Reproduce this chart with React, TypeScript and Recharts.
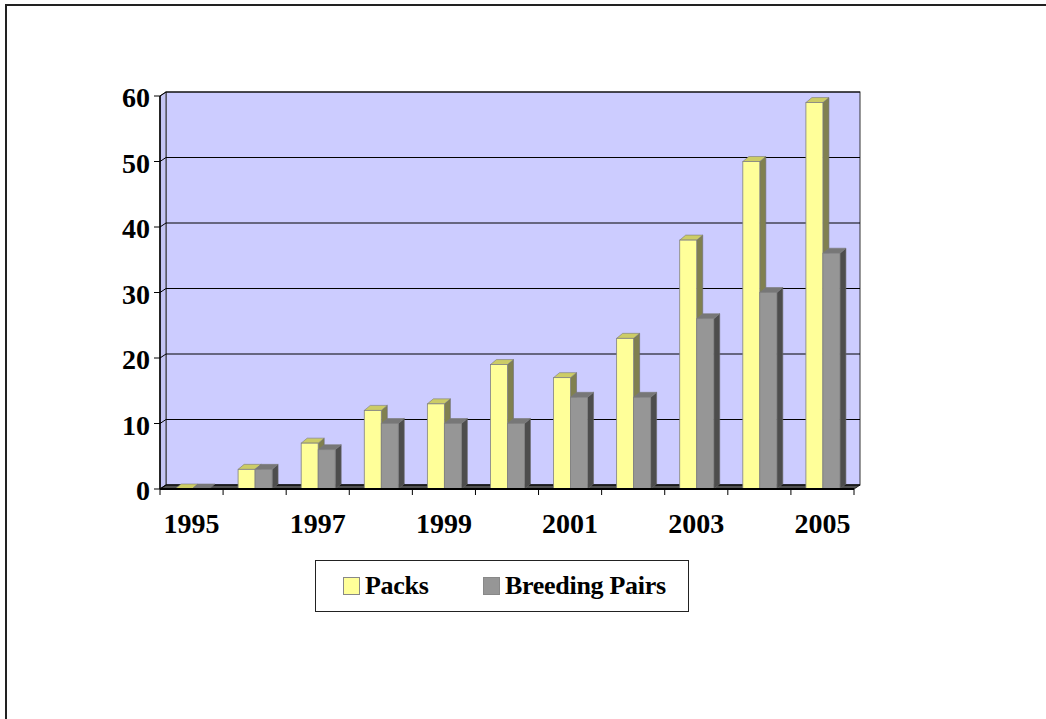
import React from 'react';
import {BarChart, Bar, XAxis, YAxis, CartesianGrid} from 'recharts';

// wolf counts per year
const years = ['1995', '1996', '1997', '1998', '1999', '2000', '2001', '2002', '2003', '2004', '2005'];
const packs = [0, 3, 7, 12, 13, 19, 17, 23, 38, 50, 59];
const breedingPairs = [0, 3, 6, 10, 10, 10, 14, 14, 26, 30, 36];
const seriesNames = ['Packs', 'Breeding Pairs'];
const yTicks = [0, 10, 20, 30, 40, 50, 60];

const chartData = years.map((year, i) => ({
    year,
    packs: packs[i],
    pairs: breedingPairs[i],
}));

const FONT = "'Liberation Serif', 'Times New Roman', serif";
const WALL_DX = 6;
const WALL_DY = 4;
const BAR_DX = 6;
const BAR_DY = 5;

const colors = {
    packs: {front: '#FFFF99', top: '#CCCC66', side: '#808050'},
    pairs: {front: '#969696', top: '#777777', side: '#4D4D4D'},
};

// 3d column: front face, top face and right side
const makeBarShape = (c: {front: string; top: string; side: string}) => (props: any) => {
    const {x, y, width, height} = props;
    if (x == null || y == null) return null;
    const w = width;
    const h = Math.max(height, 0);
    return (
        <g>
            {h > 0 && (
                <polygon
                    points={`${x + w},${y} ${x + w + BAR_DX},${y - BAR_DY} ${x + w + BAR_DX},${y + h - BAR_DY} ${x + w},${y + h}`}
                    fill={c.side}
                    stroke='#6a6a6a'
                    strokeWidth={0.6}
                />
            )}
            <polygon
                points={`${x},${y} ${x + BAR_DX},${y - BAR_DY} ${x + w + BAR_DX},${y - BAR_DY} ${x + w},${y}`}
                fill={c.top}
                stroke='#7a7a7a'
                strokeWidth={0.6}
            />
            {h > 0 && <rect x={x} y={y} width={w} height={h} fill={c.front} stroke='#808080' strokeWidth={0.8} />}
        </g>
    );
};

// back wall, left wall, floor and gridlines drawn in perspective
const renderGridLine = (props: any) => {
    const {x1, y1, x2, index, x, y, width, height} = props;
    return (
        <g key={`grid-${index}`}>
            {index === 0 && (
                <g>
                    <rect x={x + WALL_DX} y={y - WALL_DY} width={width} height={height} fill='#CCCCFF' stroke='#333' strokeWidth={1} />
                    <polygon
                        points={`${x},${y} ${x + WALL_DX},${y - WALL_DY} ${x + WALL_DX},${y + height - WALL_DY} ${x},${y + height}`}
                        fill='#C4C4F4'
                        stroke='#333'
                        strokeWidth={1}
                    />
                    <polygon
                        points={`${x},${y + height} ${x + WALL_DX},${y + height - WALL_DY} ${x + width + WALL_DX},${y + height - WALL_DY} ${x + width},${y + height}`}
                        fill='#505050'
                        stroke='#222'
                        strokeWidth={1}
                    />
                </g>
            )}
            <line x1={x1} y1={y1} x2={x1 + WALL_DX} y2={y1 - WALL_DY} stroke='#000' strokeWidth={1} />
            <line x1={x1 + WALL_DX} y1={y1 - WALL_DY} x2={x2 + WALL_DX} y2={y1 - WALL_DY} stroke='#000' strokeWidth={1} />
        </g>
    );
};

const YTick = (props: any) => {
    const {x, y, payload} = props;
    return (
        <text x={x} y={y + 11} textAnchor='end' fontFamily={FONT} fontWeight='bold' fontSize={28} fill='#000'>
            {payload.value}
        </text>
    );
};

const XTick = (props: any) => {
    const {x, y, payload, width} = props;
    const half = payload.offset || width / years.length / 2;
    return (
        <g>
            <line x1={x - half} y1={y} x2={x - half} y2={y + 6} stroke='#000' strokeWidth={1} />
            <line x1={x + half} y1={y} x2={x + half} y2={y + 6} stroke='#000' strokeWidth={1} />
            <text x={x} y={y + 44} textAnchor='middle' fontFamily={FONT} fontWeight='bold' fontSize={28} fill='#000'>
                {payload.value}
            </text>
        </g>
    );
};

const LegendBox = () => (
    <div
        style={{
            position: 'absolute',
            left: 315,
            top: 560,
            width: 372,
            height: 50,
            border: '1.5px solid #222',
            fontFamily: FONT,
            fontWeight: 'bold',
            fontSize: 26,
            background: '#fff',
        }}
    >
        {[colors.packs, colors.pairs].map((c, i) => (
            <div key={seriesNames[i]} style={{position: 'absolute', left: i === 0 ? 27 : 167, top: 12, display: 'flex', alignItems: 'center'}}>
                <span style={{display: 'inline-block', width: 15, height: 16, background: c.front, border: '1px solid #888', marginRight: 5}} />
                <span style={{lineHeight: '26px', letterSpacing: -0.3}}>{seriesNames[i]}</span>
            </div>
        ))}
    </div>
);

export default function App() {
    return (
        <div style={{position: 'absolute', left: 0, top: 0, width: 1046, height: 719, overflow: 'hidden', background: '#fff'}}>
            <div
                style={{
                    position: 'absolute',
                    left: 5,
                    top: 4,
                    width: 1046,
                    height: 719,
                    borderLeft: '2px solid #222',
                    borderTop: '2px solid #222',
                }}
            />
            <div style={{position: 'absolute', left: 0, top: 0}}>
                <BarChart
                    width={1046}
                    height={719}
                    data={chartData}
                    margin={{top: 96, right: 192, left: 0, bottom: 170}}
                    barSize={17}
                    barGap={0}
                >
                    <CartesianGrid vertical={false} horizontal={renderGridLine} />
                    <XAxis
                        dataKey='year'
                        interval={1}
                        height={60}
                        tickLine={false}
                        tickSize={0}
                        tickMargin={0}
                        axisLine={{stroke: '#000', strokeWidth: 2}}
                        tick={<XTick />}
                    />
                    <YAxis
                        width={160}
                        domain={[0, 60]}
                        ticks={yTicks}
                        tickSize={6}
                        tickMargin={4}
                        tickLine={{stroke: '#000'}}
                        axisLine={{stroke: '#000', strokeWidth: 1.5}}
                        tick={<YTick />}
                    />
                    <Bar dataKey='packs' name={seriesNames[0]} isAnimationActive={false} shape={makeBarShape(colors.packs)} />
                    <Bar dataKey='pairs' name={seriesNames[1]} isAnimationActive={false} shape={makeBarShape(colors.pairs)} />
                </BarChart>
            </div>
            <LegendBox />
        </div>
    );
}
